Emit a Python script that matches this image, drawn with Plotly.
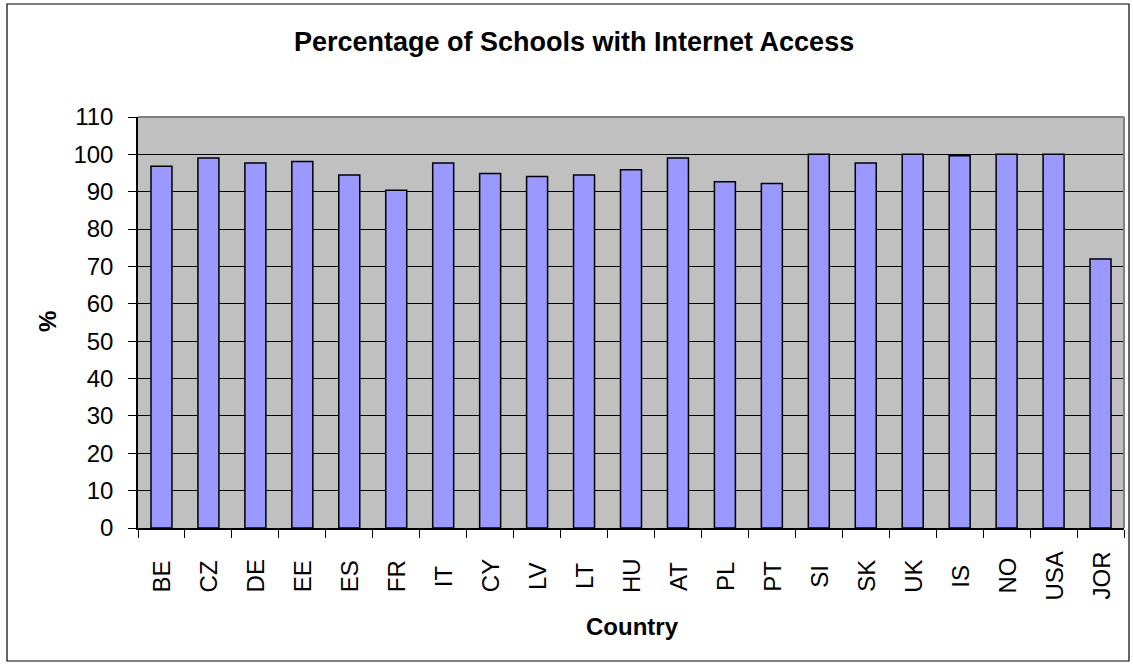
import plotly.graph_objects as go

# Data
countries = ["BE", "CZ", "DE", "EE", "ES", "FR", "IT", "CY", "LV", "LT", "HU",
             "AT", "PL", "PT", "SI", "SK", "UK", "IS", "NO", "USA", "JOR"]
internet_pct = [96.8, 99.0, 97.7, 98.1, 94.5, 90.4, 97.7, 94.9, 94.1, 94.5, 95.9,
                99.0, 92.7, 92.2, 100.0, 97.7, 100.0, 99.6, 100.0, 100.0, 72.0]
y_ticks = list(range(0, 111, 10))

# Canvas and plot-area geometry (pixels)
W, H = 1133, 665
L, R, T, B = 138, 9, 117, 137
PW, PH = W - L - R, H - T - B


def px(x):
    return (x - L) / PW


def py(y):
    return (H - B - y) / PH


FONT = "Arial, Liberation Sans, sans-serif"

fig = go.Figure()
fig.add_trace(go.Bar(
    x=countries,
    y=internet_pct,
    marker=dict(color="#9999FF", line=dict(color="black", width=1.5)),
    hoverinfo="x+y",
))

annotations = []
# Rotated category labels, centred in the label band
for c in countries:
    annotations.append(dict(
        x=c, xref="x", y=py(576), yref="paper",
        text=c, textangle=-90, showarrow=False,
        xanchor="center", yanchor="middle",
        font=dict(family=FONT, size=24, color="black"),
    ))
annotations.append(dict(
    x=px(632), xref="paper", y=py(626), yref="paper",
    text="<b>Country</b>", showarrow=False, xanchor="center", yanchor="middle",
    font=dict(family=FONT, size=24, color="black"),
))
annotations.append(dict(
    x=px(47), xref="paper", y=py(322), yref="paper",
    text="<b>%</b>", textangle=-90, showarrow=False, xanchor="center", yanchor="middle",
    font=dict(family=FONT, size=24, color="black"),
))
annotations.append(dict(
    x=px(574), xref="paper", y=py(42), yref="paper",
    text="<b>Percentage of Schools with Internet Access</b>", showarrow=False,
    xanchor="center", yanchor="middle",
    font=dict(family=FONT, size=27, color="black"),
))

shapes = [
    # outer chart border
    dict(type="rect", xref="paper", yref="paper",
         x0=px(7), x1=px(1129), y0=py(661), y1=py(4),
         line=dict(color="black", width=1.2), fillcolor="rgba(0,0,0,0)", layer="below"),
    # plot area top and right borders
    dict(type="line", xref="paper", yref="paper", x0=0, x1=1, y0=1, y1=1,
         line=dict(color="#808080", width=2)),
    dict(type="line", xref="paper", yref="paper", x0=1, x1=1, y0=0, y1=1,
         line=dict(color="#808080", width=2)),
]

fig.update_layout(
    width=W, height=H,
    margin=dict(l=L, r=R, t=T, b=B, pad=0),
    paper_bgcolor="white",
    plot_bgcolor="#C0C0C0",
    bargap=0.553,
    showlegend=False,
    annotations=annotations,
    shapes=shapes,
    font=dict(family=FONT, color="black"),
)
fig.update_xaxes(
    type="category",
    showticklabels=False,
    ticks="outside", tickson="boundaries", ticklen=8, tickcolor="black", tickwidth=1,
    showline=True, linecolor="black", linewidth=1.5,
    showgrid=False,
)
fig.update_yaxes(
    range=[0, 110], tickvals=y_ticks,
    ticks="outside", ticklen=8, tickcolor="black", tickwidth=1,
    ticklabelstandoff=10,
    tickfont=dict(family=FONT, size=24, color="black"),
    showline=True, linecolor="black", linewidth=1.5,
    showgrid=True, gridcolor="black", gridwidth=1,
    zeroline=False,
)

fig.write_html("out.html")
